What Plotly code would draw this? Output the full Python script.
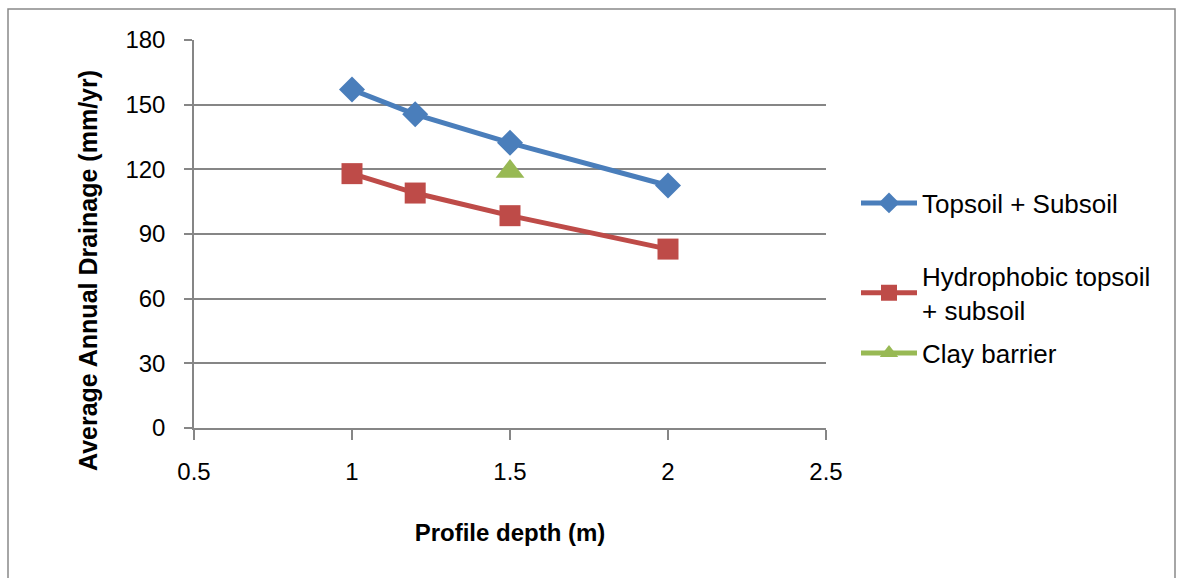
import plotly.graph_objects as go

depth_a = [1.0, 1.2, 1.5, 2.0]
topsoil_subsoil = [157, 145.5, 132.3, 112.5]
depth_b = [1.0, 1.2, 1.5, 2.0]
hydrophobic = [118, 109, 98.5, 83]
depth_c = [1.5]
clay_barrier = [119]

FONT = "Liberation Sans Narrow, Arial Narrow, Liberation Sans, Arial"
fs_tick = 24
fs_leg = 26
fs_title = 24

fig = go.Figure()
fig.add_trace(go.Scatter(x=depth_a, y=topsoil_subsoil, mode="lines+markers",
                         name="Topsoil + Subsoil",
                         line=dict(color="#4A7EBB", width=5),
                         marker=dict(symbol="diamond", size=20, color="#4A7EBB"),
                         legend="legend"))
fig.add_trace(go.Scatter(x=depth_b, y=hydrophobic, mode="lines+markers",
                         name="Hydrophobic topsoil<br>+ subsoil",
                         line=dict(color="#BE4B48", width=5),
                         marker=dict(symbol="square", size=21, color="#BE4B48"),
                         legend="legend2"))
fig.add_trace(go.Scatter(x=depth_c, y=clay_barrier, mode="lines+markers",
                         name="Clay barrier",
                         line=dict(color="#98B954", width=5),
                         marker=dict(symbol="triangle-up", size=25, color="#98B954"),
                         legend="legend3"))

axis_col = "#868686"
L, R, T, B = 194, 826, 40, 428
W, H = 1178, 578
pw, ph = R - L, B - T

def px_x(p):
    return (p - L) / pw

def px_y(p):
    return (B - p) / ph

leg_common = dict(font=dict(family=FONT, size=fs_leg, color="#000"), bgcolor="rgba(0,0,0,0)",
                  itemwidth=56, xanchor="left", yanchor="middle", tracegroupgap=0)

fig.update_layout(
    width=W, height=H,
    margin=dict(l=L, r=W - R, t=T, b=H - B, pad=0, autoexpand=False),
    paper_bgcolor="white", plot_bgcolor="white",
    font=dict(family=FONT, size=fs_tick, color="#000"),
    xaxis=dict(range=[0.5, 2.5], tickvals=[0.5, 1, 1.5, 2, 2.5],
               ticktext=["0.5", "1", "1.5", "2", "2.5"],
               showgrid=False, zeroline=False, showline=True, linecolor=axis_col, linewidth=2,
               ticks="outside", ticklen=10, tickcolor=axis_col, tickwidth=1.5,
               tickfont=dict(family=FONT, size=fs_tick), ticklabelstandoff=11,
               title=dict(text="<b>Profile depth (m)</b>", font=dict(family=FONT, size=fs_title), standoff=40)),
    yaxis=dict(range=[0, 180], tickvals=[0, 30, 60, 90, 120, 150, 180],
               showgrid=True, gridcolor=axis_col, gridwidth=1.5,
               zeroline=False, showline=True, linecolor=axis_col, linewidth=1.5,
               ticks="outside", ticklen=8, tickcolor=axis_col, tickwidth=1.5,
               tickfont=dict(family=FONT, size=fs_tick), ticklabelstandoff=14),
    legend=dict(x=px_x(856), y=px_y(203), **leg_common),
    legend2=dict(x=px_x(856), y=px_y(293), **leg_common),
    legend3=dict(x=px_x(856), y=px_y(353), **leg_common),
    showlegend=True,
    annotations=[dict(text="<b>Average Annual Drainage (mm/yr)</b>", textangle=-90,
                      xref="paper", yref="paper", x=px_x(88), y=px_y(271),
                      xanchor="center", yanchor="middle", showarrow=False,
                      font=dict(family=FONT, size=25, color="#000"))],
    shapes=[dict(type="rect", xref="paper", yref="paper",
                 x0=px_x(8), x1=px_x(1175), y0=px_y(600), y1=px_y(9),
                 line=dict(color="#898989", width=1.5), fillcolor="rgba(0,0,0,0)", layer="below")],
)

fig.write_html("out.html")
